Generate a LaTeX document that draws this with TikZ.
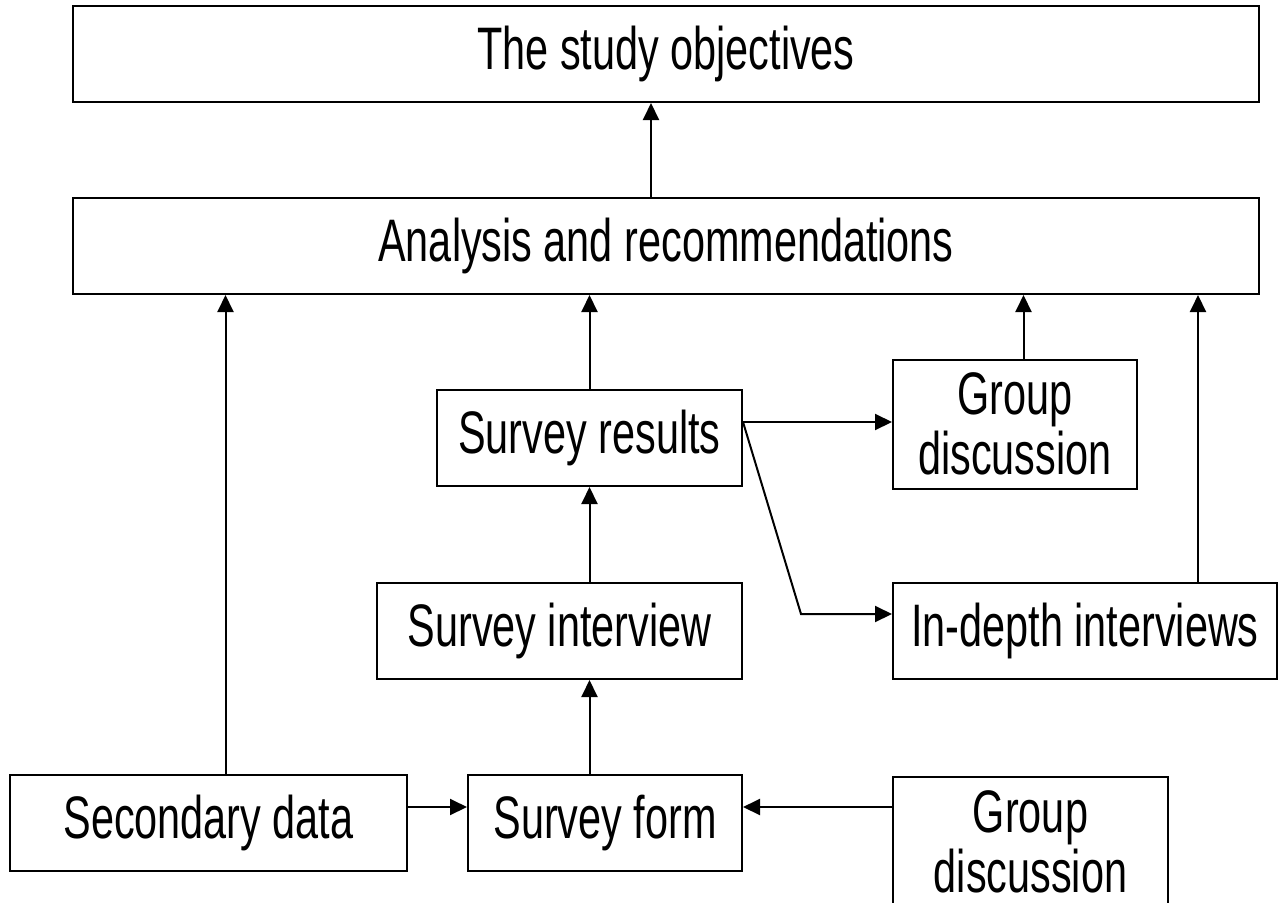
\documentclass[tikz,border=0pt]{standalone}
\usepackage{fontspec}
\setmainfont[FakeStretch=0.69]{Liberation Sans}
\usetikzlibrary{arrows.meta}
\tikzset{
  box/.style={draw=black, line width=2pt, inner sep=0pt, align=center,
    font=\fontsize{60}{60}\selectfont, text=black},
  arr/.style={draw=black, line width=2pt, -{Triangle[width=16pt,length=17pt]}},
  ln/.style={draw=black, line width=2pt}
}
\begin{document}
\begin{tikzpicture}[x=1pt,y=-1pt]
\useasboundingbox (0,0) rectangle (1279,902);
\clip (0,0) rectangle (1279,902);
\fill[white] (0,0) rectangle (1279,902);
\node[box, minimum width=1186pt, minimum height=96pt] (obj) at (666,54) {The study objectives};
\node[box, minimum width=1186pt, minimum height=96pt] (ana) at (666,246) {Analysis and recommendations};
\node[box, minimum width=305pt, minimum height=96pt] (res) at (589.5,438) {Survey results};
\node[box, minimum width=244pt, minimum height=129pt] (gd1) at (1015,424) {Group\\discussion};
\node[box, minimum width=365pt, minimum height=96pt] (int) at (559.5,631) {Survey interview};
\node[box, minimum width=384pt, minimum height=96pt] (dep) at (1085,631) {In-depth interviews};
\node[box, minimum width=397pt, minimum height=96pt] (sec) at (208.5,823) {Secondary data};
\node[box, minimum width=274pt, minimum height=96pt] (form) at (605,823) {Survey form};
\node[box, minimum width=275pt, minimum height=130pt] (gd2) at (1030.5,842) {Group\\discussion};

\coordinate (a0) at ([xshift=-15pt]ana.north);
\draw[arr] (a0) -- (a0 |- obj.south);
\coordinate (a1) at ([xshift=17pt]sec.north);
\draw[arr] (a1) -- (a1 |- ana.south);
\draw[arr] (res.north) -- (res.north |- ana.south);
\coordinate (a2) at ([xshift=8.5pt]gd1.north);
\draw[arr] (a2) -- (a2 |- ana.south);
\coordinate (a3) at ([xshift=113pt]dep.north);
\draw[arr] (a3) -- (a3 |- ana.south);
\draw[arr] (res.east |- 0,422) -- (gd1.west |- 0,422);
\coordinate (d1) at ([yshift=17pt]dep.west);
\draw[arr] (res.east |- 0,422) -- ([xshift=-91pt]d1) -- (d1);
\draw[arr] (res.south |- int.north) -- (res.south);
\draw[arr] (res.south |- form.north) -- (res.south |- int.south);
\coordinate (f0) at ([yshift=16pt]sec.east);
\draw[arr] (f0) -- (f0 -| form.west);
\coordinate (f1) at ([yshift=16pt]form.east);
\draw[arr] (f1 -| gd2.west) -- (f1);
\end{tikzpicture}
\end{document}
